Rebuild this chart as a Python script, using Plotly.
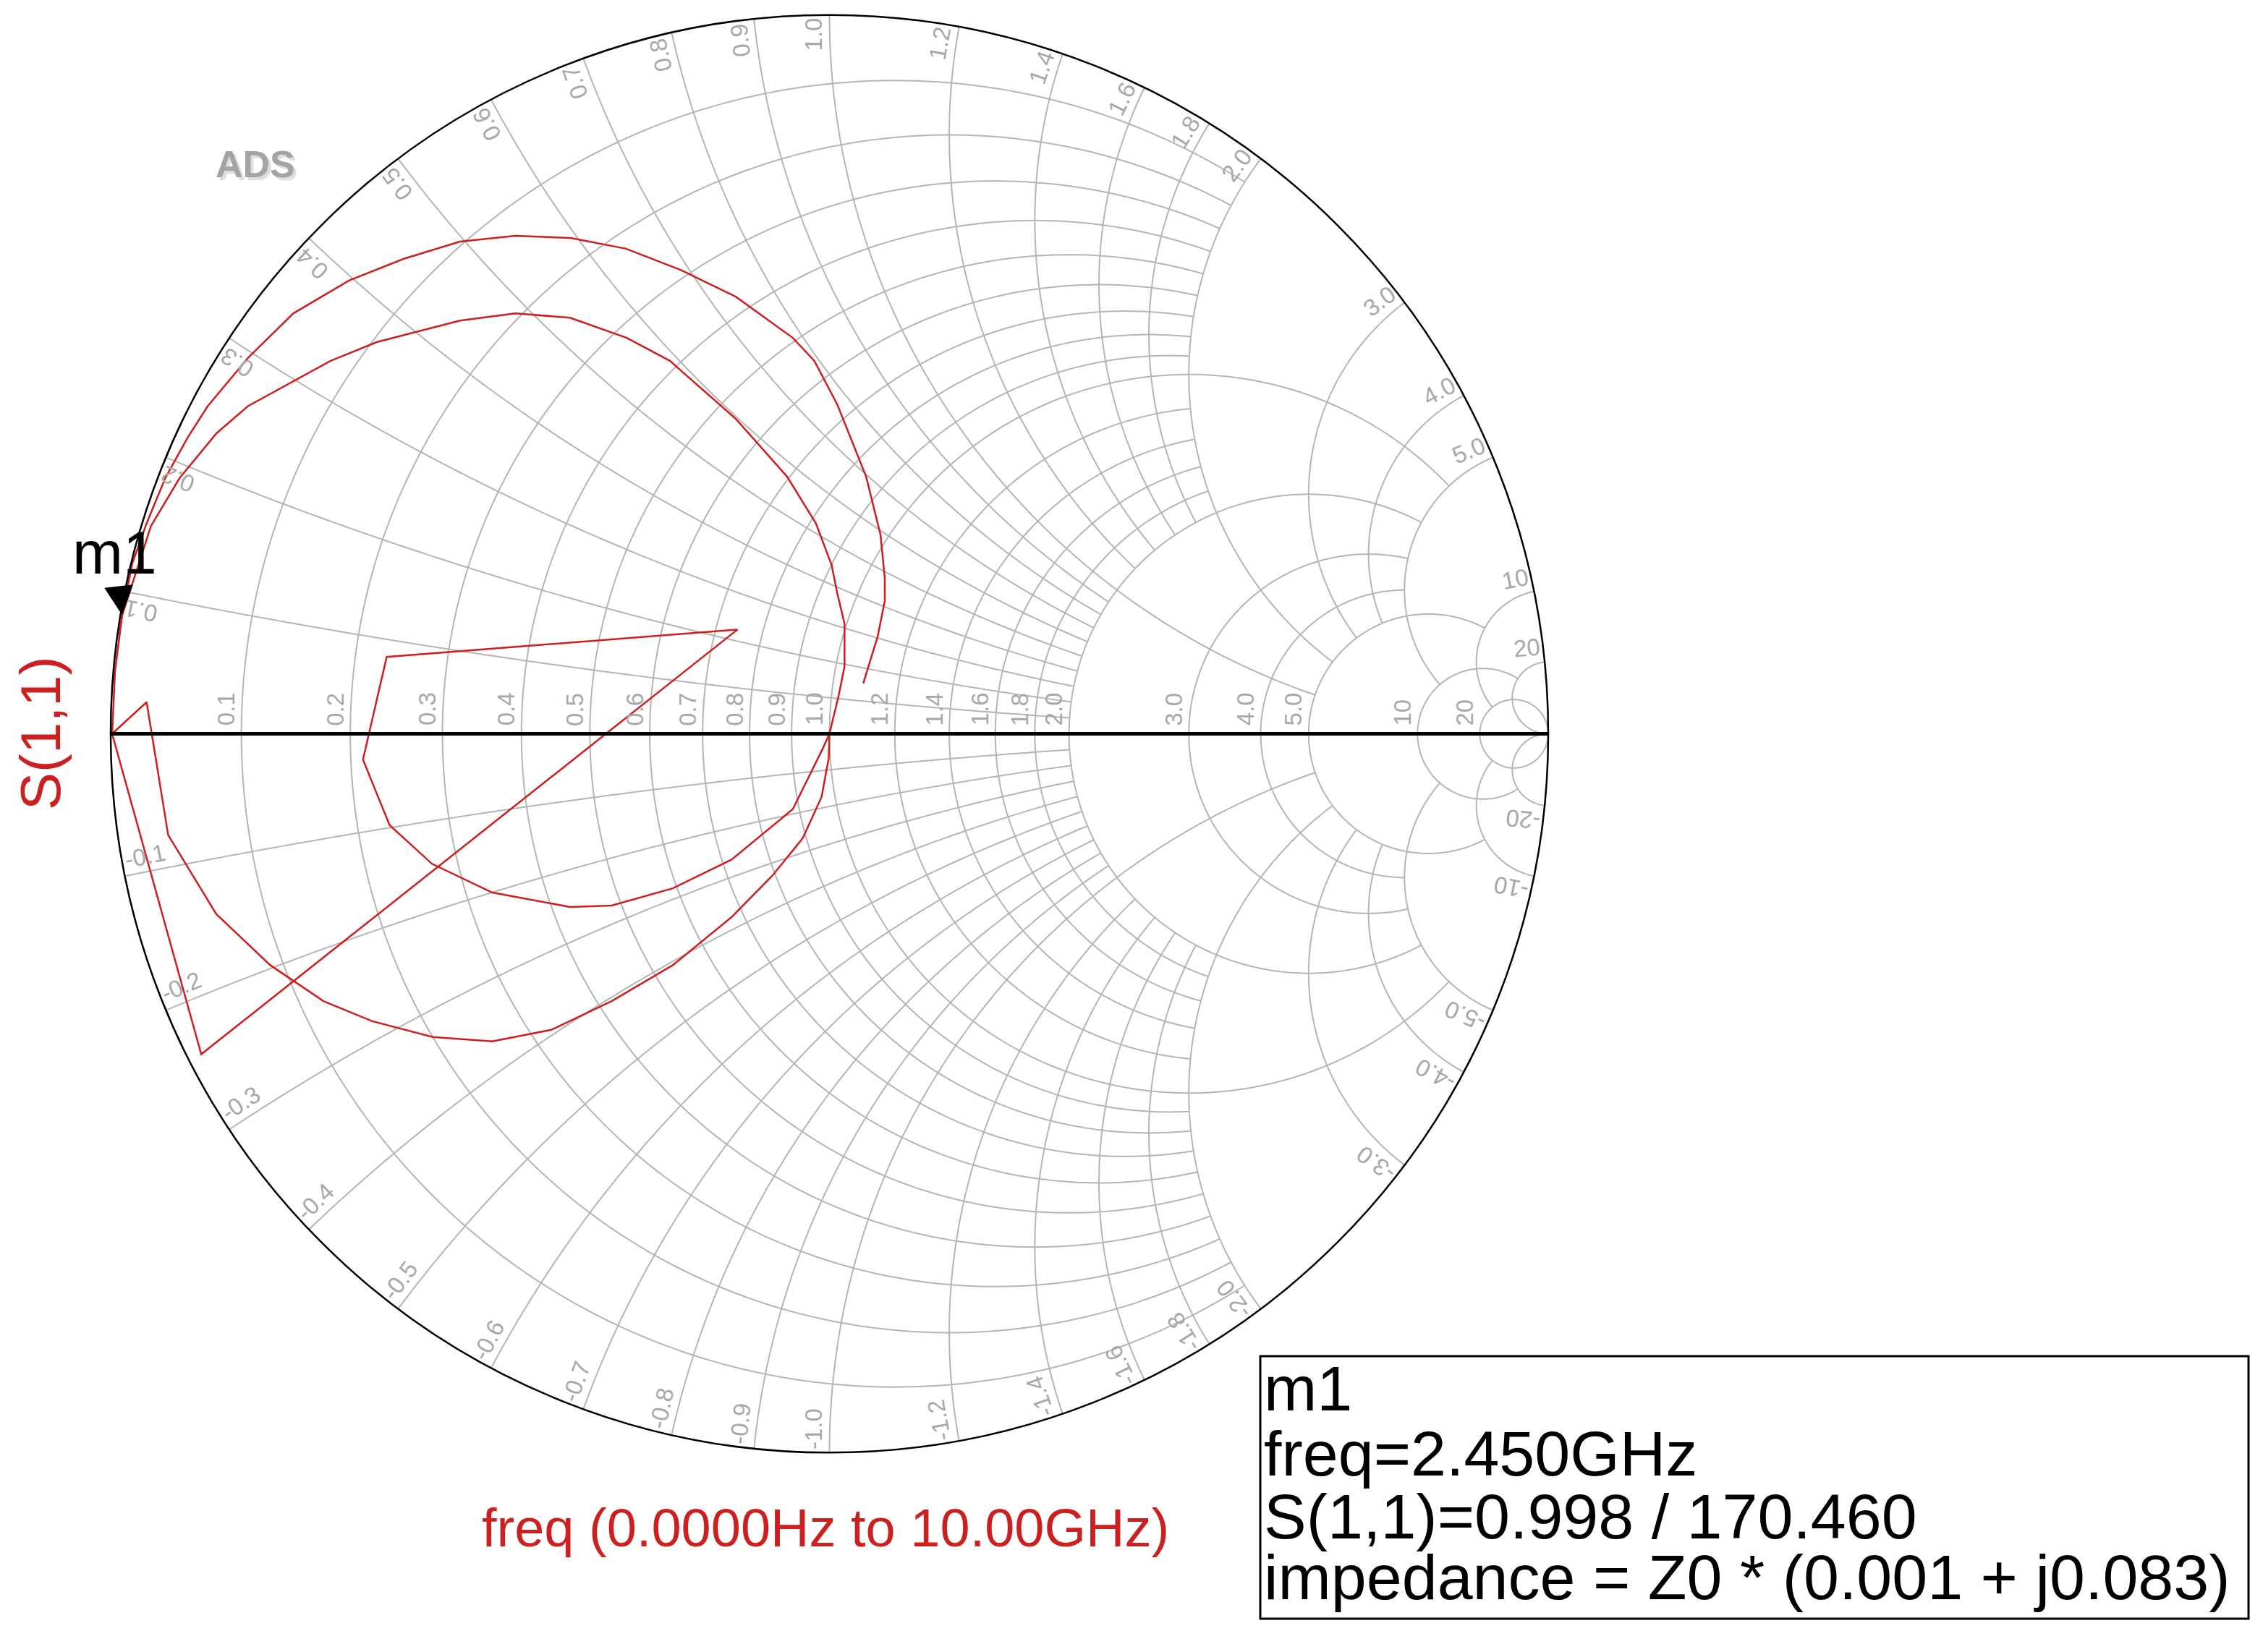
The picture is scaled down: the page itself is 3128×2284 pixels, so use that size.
import numpy as np
import plotly.graph_objects as go

# page is 3128x2284; the html body keeps an 8px margin, so the figure is 16px smaller
PAGE_W, PAGE_H, BODY = 3128, 2284, 8
W, H = PAGE_W - 2 * BODY, PAGE_H - 2 * BODY
FONT = "Arial, Liberation Sans, sans-serif"
RED = "#cc1f1f"
GRID = "#b5b5b5"
LABEL = "#a8a8a8"

# S(1,1), 0 Hz .. 10 GHz (re, im)
s11_re = [0.000, -0.009, -0.051, -0.136, -0.218, -0.303, -0.361, -0.469, -0.553, -0.612,
          -0.649, -0.616, -0.128, -0.874, -0.998, -0.994, -0.984,
          -0.944, -0.904, -0.853, -0.809, -0.694, -0.630, -0.514, -0.437, -0.361, -0.282,
          -0.222, -0.130, -0.059, -0.019, 0.003, 0.011, 0.021, 0.021, 0.013, 0.000,
          -0.001, -0.011, -0.037, -0.079, -0.136, -0.218, -0.303, -0.387, -0.469, -0.552,
          -0.636, -0.704, -0.778, -0.853, -0.920, -0.950, -0.998, -0.994, -0.985,
          -0.970, -0.950, -0.924, -0.893, -0.865, -0.809, -0.746, -0.668, -0.592, -0.514,
          -0.437, -0.360, -0.283, -0.206, -0.130, -0.051, -0.021, 0.011, 0.051, 0.071,
          0.077, 0.077, 0.067, 0.047]
s11_im = [0.000, -0.020, -0.105, -0.175, -0.215, -0.239, -0.241, -0.221, -0.181, -0.127,
          -0.036, 0.107, 0.145, -0.446, 0.000, 0.087, 0.165,
          0.289, 0.356, 0.418, 0.456, 0.519, 0.545, 0.575, 0.585, 0.579, 0.551,
          0.519, 0.438, 0.358, 0.293, 0.235, 0.195, 0.153, 0.094, 0.054, 0.000,
          -0.034, -0.088, -0.145, -0.197, -0.255, -0.322, -0.372, -0.412, -0.428, -0.422,
          -0.400, -0.372, -0.322, -0.251, -0.141, 0.044, 0.000, 0.087, 0.160,
          0.237, 0.293, 0.356, 0.412, 0.456, 0.523, 0.585, 0.631, 0.661, 0.685,
          0.693, 0.690, 0.675, 0.645, 0.608, 0.551, 0.519, 0.458, 0.358, 0.277,
          0.217, 0.185, 0.135, 0.070]

# marker m1
m1_freq_ghz = 2.450
m1_mag = 0.998
m1_ang = 170.460
m1_r = 0.001
m1_x = 0.083

# ADS smith grid: circle / arc values and how far each one runs (None = all the way)
grid_vals = [0.1, 0.2, 0.3, 0.4, 0.5, 0.6, 0.7, 0.8, 0.9, 1.0,
             1.2, 1.4, 1.6, 1.8, 2.0, 3.0, 4.0, 5.0, 10, 20]
grid_reach = [2, 2, 2, 2, 2, 2, 2, 2, 2, 5,
              2, 2, 2, 2, 5, 5, 5, 10, 20, None]


def px(x):
    return (x - BODY) / W


def py(y):
    return 1 - (y - BODY) / H


# chart placement (page pixels)
CX, CY, RAD = 1146.5, 1014.5, 993.5
dom_x = [px(CX - RAD), px(CX + RAD)]
dom_y = [py(CY + RAD), py(CY - RAD)]
PX = 1 / RAD


def r_circle(r, reach):
    reach = reach or 1e4
    lo = 2 * np.arctan((r + 1) / reach)
    phi = np.linspace(lo, 2 * np.pi - lo, 241)
    return [r] * len(phi), list((r + 1) / np.tan(phi / 2))


def x_arc(xv, reach):
    reach = reach or 1e4
    a = np.linspace(np.arctan(xv / (reach + 1)), np.arctan(xv), 181)
    return list(np.clip(xv / np.tan(a) - 1, 0, None)), [xv] * len(a)


grid_re, grid_im = [], []
for v, reach in zip(grid_vals, grid_reach):
    re, im = r_circle(v, reach)
    grid_re += re + [None]
    grid_im += im + [None]
    for sgn in (1, -1):
        re, im = x_arc(v, reach)
        grid_re += re + [None]
        grid_im += [sgn * k for k in im] + [None]

g = np.array(s11_re) + 1j * np.array(s11_im)
z = (1 + g) / (1 - g)

fig = go.Figure()
fig.add_trace(go.Scattersmith(
    real=grid_re, imag=grid_im, mode="lines",
    line=dict(color=GRID, width=2), hoverinfo="skip", showlegend=False,
))
fig.add_trace(go.Scattersmith(
    real=z.real, imag=z.imag, mode="lines", name="S(1,1)",
    line=dict(color=RED, width=2.5), showlegend=False,
))
# cartesian overlay in gamma units, used to place the text
fig.add_trace(go.Scatter(x=[None], y=[None], showlegend=False, hoverinfo="skip"))


def tlen(s, size):
    w = {".": 0.278, "-": 0.333}
    return sum(w.get(c, 0.556) for c in s) * size


LS = 33
ann = []
for v in grid_vals:
    txt = f"{v:.1f}" if v < 10 else f"{v:.0f}"
    L = tlen(txt, LS)
    ann.append(dict(x=(v - 1) / (v + 1) - 21 * PX, y=(11 + L / 2) * PX,
                    text=txt, textangle=-90))
    for sgn in (1, -1):
        th = sgn * (np.pi - 2 * np.arctan(v))
        t = ("-" if sgn < 0 else "") + txt
        d = (4 + tlen(t, LS) / 2) * PX
        if sgn > 0:
            phi, perp = th, th + np.pi / 2
        else:
            phi, perp = th + np.pi, th - np.pi / 2
        ang = (-np.degrees(phi) + 180) % 360 - 180
        ann.append(dict(x=np.cos(th) * (1 - d) + np.cos(perp) * 22 * PX,
                        y=np.sin(th) * (1 - d) + np.sin(perp) * 22 * PX,
                        text=t, textangle=ang))
for a in ann:
    fig.add_annotation(xref="x", yref="y", showarrow=False, xanchor="center",
                       yanchor="middle", font=dict(size=LS, color=LABEL, family=FONT), **a)

# marker m1
gm = m1_mag * np.exp(1j * np.radians(m1_ang))
fig.add_annotation(x=gm.real, y=gm.imag, xref="x", yref="y", text="m1",
                   showarrow=True, arrowhead=2, arrowsize=4, arrowwidth=2,
                   arrowcolor="black", ax=-10, ay=-86, standoff=0,
                   xanchor="center", yanchor="middle",
                   font=dict(size=84, color="black", family=FONT))

# titles
common = dict(xref="paper", yref="paper", showarrow=False,
              xanchor="center", yanchor="middle")
fig.add_annotation(x=px(56), y=py(1014), text="S(1,1)", textangle=-90,
                   font=dict(size=78, color=RED, family=FONT), **common)
fig.add_annotation(x=px(1141), y=py(2112), text="freq (0.0000Hz to 10.00GHz)",
                   font=dict(size=74, color=RED, family=FONT), **common)
fig.add_annotation(x=px(357), y=py(231), text="<b>ADS</b>",
                   font=dict(size=52, color="#dedede", family=FONT), **common)
fig.add_annotation(x=px(353), y=py(227), text="<b>ADS</b>",
                   font=dict(size=52, color="#a4a4a4", family=FONT), **common)

# marker readout box
box_lines = [
    "m1",
    f"freq={m1_freq_ghz:.3f}GHz",
    f"S(1,1)={m1_mag:.3f} / {m1_ang:.3f}",
    f"impedance = Z0 * ({m1_r:.3f} + j{m1_x:.3f})",
]
for txt, yc in zip(box_lines, [1919, 2009, 2096, 2180]):
    fig.add_annotation(x=px(1745), y=py(yc), xref="paper", yref="paper",
                       text=txt, showarrow=False, xanchor="left", yanchor="middle",
                       font=dict(size=88, color="black", family=FONT))
fig.add_shape(type="rect", xref="paper", yref="paper",
              x0=px(1742), x1=px(3108), y0=py(2238), y1=py(1875),
              line=dict(color="black", width=3))

fig.update_layout(
    width=W, height=H,
    margin=dict(l=0, r=0, t=0, b=0),
    paper_bgcolor="white", plot_bgcolor="white",
    showlegend=False,
    smith=dict(
        domain=dict(x=dom_x, y=dom_y),
        bgcolor="white",
        realaxis=dict(showgrid=False, showticklabels=False, ticks="",
                      showline=True, linecolor="black", linewidth=5),
        imaginaryaxis=dict(showgrid=False, showticklabels=False, ticks="",
                           showline=True, linecolor="black", linewidth=2.5),
    ),
    xaxis=dict(domain=dom_x, range=[-1, 1], visible=False, fixedrange=True),
    yaxis=dict(domain=dom_y, range=[-1, 1], visible=False, fixedrange=True),
)

fig.write_html("out.html")
